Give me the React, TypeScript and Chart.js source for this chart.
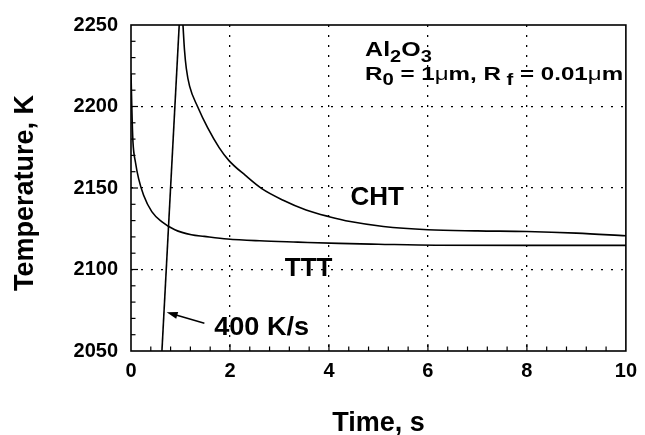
import React, { useEffect, useRef } from "react";
import { Chart, registerables } from "chart.js";
Chart.register(...registerables);

// ---- data ----
const tttTime = [0, 0.012, 0.025, 0.04, 0.09, 0.155, 0.255, 0.42, 0.62, 0.886, 1.22, 1.48, 1.95, 2.6, 3.37, 4.2, 5.0, 6.16, 8.0, 10];
const tttTemp = [2220, 2205, 2190, 2178, 2165.8, 2155.6, 2145.6, 2135.5, 2129.4, 2124.4, 2121.3, 2120.3, 2118.7, 2117.6, 2116.8, 2116.0, 2115.5, 2114.9, 2114.8, 2114.8];

// heating ramp ("400 K/s") up to the CHT peak
const rampTime = [0.625, 1.009];
const rampTemp = [2050, 2270];

const chtTime = [1.009, 1.05, 1.08, 1.118, 1.184, 1.349, 1.548, 1.781, 1.98, 2.312, 2.643, 3.075, 3.538, 4.004, 4.43, 5.1, 6.0, 7.0, 8.0, 9.0, 10];
const chtTemp = [2270, 2250, 2235, 2223.3, 2212.5, 2199.7, 2187, 2174.8, 2166.8, 2157.7, 2149.6, 2142.5, 2136.5, 2132.4, 2129.4, 2126.4, 2124.4, 2123.7, 2123.3, 2122.3, 2120.7];

const xMin = 0, xMax = 10, xStep = 2, xMinorStep = 0.4;
const yMin = 2050, yMax = 2250, yStep = 50, yMinorStep = 10;

const FONT = '"Liberation Sans", Arial, Helvetica, sans-serif';

type Part = { t: string; s: number; dy?: number; w?: string };

function rich(ctx: CanvasRenderingContext2D, parts: Part[], x0: number, base: number, targetW?: number) {
  let w = 0;
  for (const p of parts) {
    ctx.font = `${p.w || "bold"} ${p.s}px ${FONT}`;
    w += ctx.measureText(p.t).width;
  }
  const sx = targetW ? targetW / w : 1;
  ctx.save();
  ctx.translate(x0, base);
  ctx.scale(sx, 1);
  ctx.textAlign = "left";
  ctx.textBaseline = "alphabetic";
  let cx = 0;
  for (const p of parts) {
    ctx.font = `${p.w || "bold"} ${p.s}px ${FONT}`;
    ctx.fillText(p.t, cx, p.dy || 0);
    cx += ctx.measureText(p.t).width;
  }
  ctx.restore();
}

const decor = {
  id: "decor",
  afterDraw(chart: any) {
    const { ctx, chartArea: a, scales } = chart;
    const x = scales.x, y = scales.y;
    ctx.save();
    ctx.strokeStyle = "#000";
    ctx.fillStyle = "#000";
    ctx.lineWidth = 1.2;
    const line = (x1: number, y1: number, x2: number, y2: number) => {
      ctx.beginPath(); ctx.moveTo(x1, y1); ctx.lineTo(x2, y2); ctx.stroke();
    };
    // inner ticks on left axis
    for (let v = yMin + yMinorStep; v < yMax - 1e-6; v += yMinorStep) {
      const py = y.getPixelForValue(v);
      const major = Math.abs(((v - yMin) / yStep) - Math.round((v - yMin) / yStep)) < 1e-6;
      line(a.left, py, a.left + (major ? 7 : 4.5), py);
    }
    // inner ticks on bottom axis
    for (let v = xMin + xMinorStep; v < xMax - 1e-6; v += xMinorStep) {
      const px = x.getPixelForValue(v);
      const major = Math.abs(v / xStep - Math.round(v / xStep)) < 1e-6;
      line(px, a.bottom, px, a.bottom - (major ? 7 : 4.5));
    }
    // frame
    ctx.lineWidth = 1.6;
    ctx.strokeRect(a.left, a.top, a.right - a.left, a.bottom - a.top);

    // annotations
    const X = (v: number) => x.getPixelForValue(v);
    const Y = (v: number) => y.getPixelForValue(v);
    rich(ctx, [{ t: "Al", s: 20 }, { t: "2", s: 16, dy: 6 }, { t: "O", s: 20 }, { t: "3", s: 16, dy: 6 }], X(4.73), Y(2230.9), 66.7);
    rich(ctx, [
      { t: "R", s: 19 }, { t: "0", s: 16, dy: 5 }, { t: " = 1", s: 19 }, { t: "\u03bc", s: 19, w: "normal" },
      { t: "m, R", s: 19 }, { t: " f", s: 16, dy: 5 }, { t: " = 0.01", s: 19 }, { t: "\u03bc", s: 19, w: "normal" }, { t: "m", s: 19 },
    ], X(4.73), Y(2216.2), 258);
    rich(ctx, [{ t: "CHT", s: 26 }], X(4.434), Y(2139.7));
    rich(ctx, [{ t: "TTT", s: 26 }], X(3.108), Y(2096));
    rich(ctx, [{ t: "400 K/s", s: 26 }], X(1.68), Y(2059.7), 95);

    // arrow
    const tx = X(1.483), ty = Y(2067), hx = X(0.72), hy = Y(2073.8);
    const ang = Math.atan2(hy - ty, hx - tx);
    ctx.lineWidth = 1.4;
    line(tx, ty, hx - 8 * Math.cos(ang), hy - 8 * Math.sin(ang));
    ctx.beginPath();
    ctx.moveTo(hx, hy);
    ctx.lineTo(hx - 11 * Math.cos(ang) + 3.5 * Math.sin(ang), hy - 11 * Math.sin(ang) - 3.5 * Math.cos(ang));
    ctx.lineTo(hx - 11 * Math.cos(ang) - 3.5 * Math.sin(ang), hy - 11 * Math.sin(ang) + 3.5 * Math.cos(ang));
    ctx.closePath();
    ctx.fill();

    // axis titles
    ctx.font = `bold 27px ${FONT}`;
    ctx.textAlign = "center";
    ctx.textBaseline = "alphabetic";
    ctx.fillText("Time, s", (a.left + a.right) / 2, 431);
    ctx.save();
    ctx.translate(33, 193);
    ctx.rotate(-Math.PI / 2);
    ctx.fillText("Temperature, K", 0, 0);
    ctx.restore();
    ctx.restore();
  },
};

export default function App() {
  const ref = useRef<HTMLCanvasElement>(null);
  useEffect(() => {
    document.body.style.margin = "0";
    const edgeX = (c: any) => (c.tick && (c.tick.value === xMin || c.tick.value === xMax) ? "rgba(0,0,0,0)" : "#000");
    const edgeY = (c: any) => (c.tick && (c.tick.value === yMin || c.tick.value === yMax) ? "rgba(0,0,0,0)" : "#000");
    const lineStyle = { borderColor: "#000", borderWidth: 1.6, pointRadius: 0 };
    const chart = new Chart(ref.current!, {
      type: "line",
      data: {
        datasets: [
          { label: "TTT", data: tttTime.map((t, i) => ({ x: t, y: tttTemp[i] })), ...lineStyle, cubicInterpolationMode: "monotone" },
          { label: "ramp", data: rampTime.map((t, i) => ({ x: t, y: rampTemp[i] })), ...lineStyle, tension: 0 },
          { label: "CHT", data: chtTime.map((t, i) => ({ x: t, y: chtTemp[i] })), ...lineStyle, cubicInterpolationMode: "monotone" },
        ],
      },
      options: {
        animation: false,
        responsive: false,
        events: [],
        layout: { padding: { top: 21, right: 12, left: 0, bottom: 0 } },
        plugins: { legend: { display: false }, tooltip: { enabled: false } },
        scales: {
          x: {
            type: "linear",
            min: xMin,
            max: xMax,
            afterFit: (s: any) => { s.height = 84; },
            border: { display: false, dash: [2, 8] },
            grid: { color: edgeX, lineWidth: 1.3, drawTicks: false },
            ticks: { stepSize: xStep, padding: 8, maxRotation: 0, autoSkip: false, color: "#000", font: { family: FONT, size: 20, weight: "bold" }, callback: (v: any) => String(v) },
          },
          y: {
            type: "linear",
            min: yMin,
            max: yMax,
            afterFit: (s: any) => { s.width = 131; },
            border: { display: false, dash: [2, 8] },
            grid: { color: edgeY, lineWidth: 1.3, drawTicks: false },
            ticks: { stepSize: yStep, padding: 13, autoSkip: false, color: "#000", font: { family: FONT, size: 20, weight: "bold" }, callback: (v: any) => String(v) },
          },
        },
      } as any,
      plugins: [decor],
    });
    return () => chart.destroy();
  }, []);
  return (
    <div style={{ width: 645, height: 435, background: "#fff" }}>
      <canvas ref={ref} width={645} height={435} style={{ display: "block" }} />
    </div>
  );
}
